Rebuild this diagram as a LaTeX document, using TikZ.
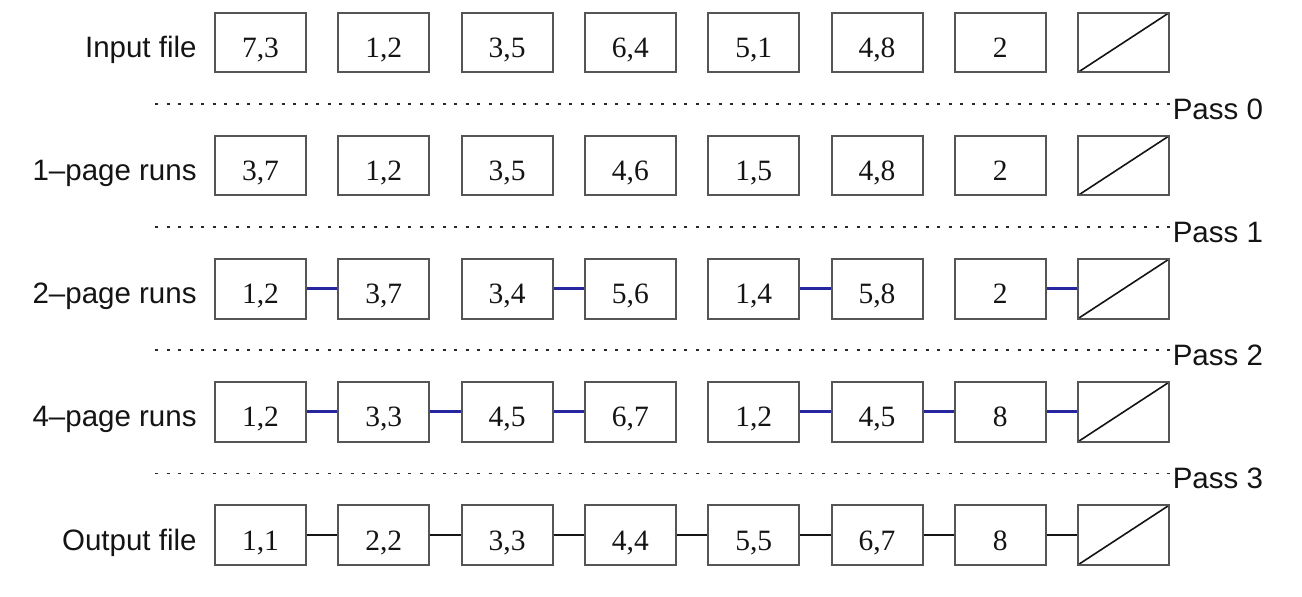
\documentclass[tikz,border=0pt]{standalone}
\usepackage{fontspec}
\setmainfont{Liberation Serif}
\setsansfont{Liberation Sans}
\usepackage{xcolor}
\usepackage{tikz}
\usetikzlibrary{positioning}
\definecolor{ink}{RGB}{20,20,20}
\definecolor{pageframe}{RGB}{85,85,85}
\definecolor{runblue}{RGB}{38,38,160}
\definecolor{passgray}{RGB}{40,40,40}
\tikzset{
  pagebox/.style={draw=pageframe, rectangle, minimum width=45.5pt, minimum height=29.75pt,
    inner sep=0pt, line width=1pt, text=ink, font=\fontsize{14.75}{17}\selectfont,
    text height=15pt, text depth=0pt},
  endbox/.style={pagebox, path picture={\draw[ink, line width=0.8pt]
    (path picture bounding box.south west) -- (path picture bounding box.north east);}},
  rowlab/.style={inner sep=0pt, text=ink, font=\sffamily\fontsize{14.75}{17}\selectfont,
    text height=15pt, text depth=0pt},
  passlab/.style={rowlab, anchor=west},
  passline/.style={draw=passgray, line width=0.75pt, dash pattern=on 1.5pt off 4.25pt},
  runlink/.style={draw=runblue, line width=1.5pt},
  filelink/.style={draw=ink, line width=0.75pt},
}
\begin{document}
\begin{tikzpicture}[x=0.5pt, y=-0.5pt, node distance=15.15pt]
  \path[use as bounding box] (0,0) rectangle (1302,596);
  % page rows
  \foreach \v [count=\c] in {{7,3},{1,2},{3,5},{6,4},{5,1},{4,8},{2}}
    \node[pagebox] (inp\c) at ({260.5+123.3*(\c-1)},42.5) {\v};
  \node[endbox] (inp8) at (1123.6,42.5) {};
  \foreach \v [count=\c] in {{3,7},{1,2},{3,5},{4,6},{1,5},{4,8},{2}}
    \node[pagebox] (one\c) at ({260.5+123.3*(\c-1)},165.6) {\v};
  \node[endbox] (one8) at (1123.6,165.6) {};
  \foreach \v [count=\c] in {{1,2},{3,7},{3,4},{5,6},{1,4},{5,8},{2}}
    \node[pagebox] (two\c) at ({260.5+123.3*(\c-1)},288.8) {\v};
  \node[endbox] (two8) at (1123.6,288.8) {};
  \foreach \v [count=\c] in {{1,2},{3,3},{4,5},{6,7},{1,2},{4,5},{8}}
    \node[pagebox] (four\c) at ({260.5+123.3*(\c-1)},411.9) {\v};
  \node[endbox] (four8) at (1123.6,411.9) {};
  \foreach \v [count=\c] in {{1,1},{2,2},{3,3},{4,4},{5,5},{6,7},{8}}
    \node[pagebox] (out\c) at ({260.5+123.3*(\c-1)},535) {\v};
  \node[endbox] (out8) at (1123.6,535) {};

  % row labels
  \node[rowlab, left=8.5pt of inp1, anchor=east] {Input file};
  \node[rowlab, left=8.5pt of one1, anchor=east] {1\textendash page runs};
  \node[rowlab, left=8.5pt of two1, anchor=east] {2\textendash page runs};
  \node[rowlab, left=8.5pt of four1, anchor=east] {4\textendash page runs};
  \node[rowlab, left=8.5pt of out1, anchor=east] {Output file};

  % links between pages of a run
  \foreach \c [evaluate=\c as \n using int(\c+1)] in {1,3,5,7}
    \draw[runlink] (two\c) -- (two\n);
  \foreach \c [evaluate=\c as \n using int(\c+1)] in {1,2,3,5,6,7}
    \draw[runlink] (four\c) -- (four\n);
  \foreach \c [evaluate=\c as \n using int(\c+1)] in {1,...,7}
    \draw[filelink] (out\c) -- (out\n);

  % pass separators
  \draw[passline] (155,104) -- (1170,104) node[passlab, right=1pt] {Pass 0};
  \draw[passline] (155,227.1) -- (1170,227.1) node[passlab, right=1pt] {Pass 1};
  \draw[passline] (155,350.2) -- (1170,350.2) node[passlab, right=1pt] {Pass 2};
  \draw[passline] (155,473.4) -- (1170,473.4) node[passlab, right=1pt] {Pass 3};
\end{tikzpicture}
\end{document}
